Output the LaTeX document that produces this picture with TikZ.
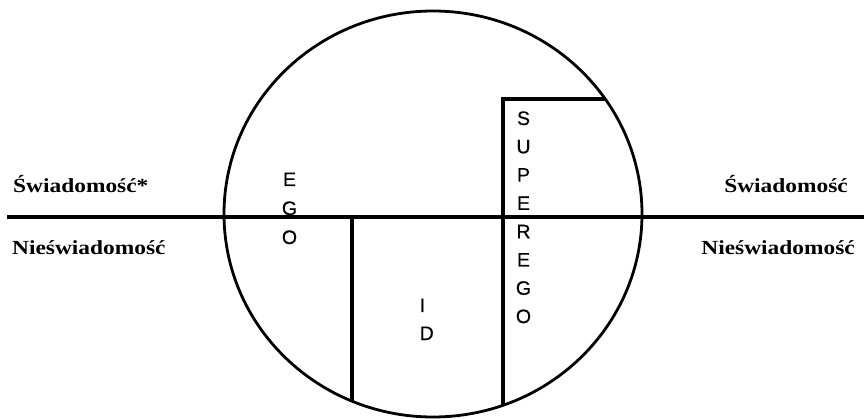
\documentclass[tikz,border=0pt]{standalone}
\usepackage{fontspec}
\newfontfamily\serifl[FakeStretch=1.17]{Liberation Serif}
\newfontfamily\sansl[FakeBold=0.6]{Liberation Sans}
\begin{document}
\begin{tikzpicture}[x=1pt,y=-1pt,
  lbl/.style={inner sep=0pt,font=\serifl\bfseries\fontsize{20}{22}\selectfont},
  ltr/.style={inner sep=0pt,anchor=base,font=\sansl\fontsize{19.5}{20}\selectfont},
  ltrw/.style={inner sep=0pt,anchor=base west,font=\sansl\fontsize{19.5}{20}\selectfont},
  thick line/.style={line width=3.2pt},
  mid line/.style={line width=2.8pt}]
\useasboundingbox (0,0) rectangle (864,419);
% circle
\draw[mid line] (433,214) ellipse [x radius=209, y radius=203];
% coordinates
\coordinate (hl) at (7,217);
\coordinate (hr) at (864,217);
\coordinate (idtop) at (352,217);
\coordinate (idbot) at (352,401.5);
\coordinate (sutop) at (503,99);
\coordinate (subot) at (503,405.5);
\coordinate (sucirc) at (605,99);
\draw[thick line] (hl) -- (hr);
\draw[thick line] (idtop) -- (idbot);
\draw[thick line] (subot) -- (sutop) -- (sucirc);
% side labels
\node[lbl,anchor=base west] (sl) at (13,193) {Świadomość*};
\node[lbl,anchor=base west] (nl) at (12,255) {Nieświadomość};
\node[lbl,anchor=base east] (sr) at (848,193) {Świadomość};
\node[lbl,anchor=base east] (nr) at (855,255) {Nieświadomość};
% EGO
\node[ltr] (e1) at (289.5,186) {E};
\node[ltr] (e2) at (289.5,215) {G};
\node[ltr] (e3) at (289.5,244) {O};
% ID
\node[ltrw] (i1) at (419.5,312) {I};
\node[ltrw] (i2) at (419.5,340) {D};
% SUPEREGO
\foreach \l [count=\k from 0] in {S,U,P,E,R,E,G,O}{
  \node[ltr] (s\k) at (523.5,{125+28.3*\k}) {\l};
}
\end{tikzpicture}
\end{document}
